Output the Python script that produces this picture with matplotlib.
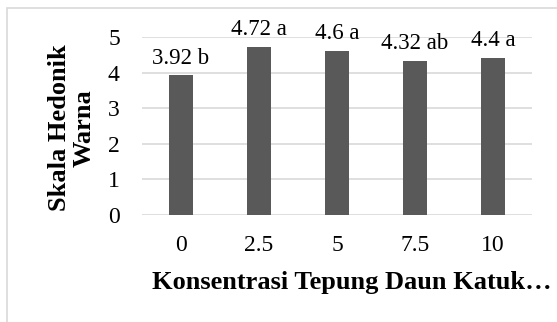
import matplotlib.pyplot as plt
from matplotlib.patches import Rectangle

# Hedonic colour scores per katuk leaf flour concentration
konsentrasi = ["0", "2.5", "5", "7.5", "10"]
skor_warna = [3.92, 4.72, 4.6, 4.32, 4.4]
notasi = ["b", "a", "a", "ab", "a"]

plt.rcParams["font.family"] = ["Liberation Serif", "DejaVu Serif"]

fig = plt.figure(figsize=(5.57, 3.22), dpi=100)
ax = fig.add_axes([0.255, 0.332, 0.700, 0.553])

x = range(len(konsentrasi))
bars = ax.bar(x, skor_warna, width=0.3, color="#595959", zorder=3)

for i, (v, n) in enumerate(zip(skor_warna, notasi)):
    ax.annotate(f"{v:g} {n}", (i, v), xytext=(0, 5), textcoords="offset points",
                ha="center", va="bottom", fontsize=16.5)

ax.set_xlim(-0.5, len(konsentrasi) - 0.5)
ax.set_ylim(0, 5)
ax.set_yticks(range(6))
ax.set_xticks(list(x))
ax.set_xticklabels(konsentrasi)
ax.yaxis.grid(True, color="#d9d9d9", linewidth=1.2, zorder=0)
ax.tick_params(axis="both", length=0, labelsize=17)
ax.tick_params(axis="y", pad=16)
ax.tick_params(axis="x", pad=14)
for s in ax.spines.values():
    s.set_visible(False)

fig.text(72 / 557, 1 - 128 / 322, "Skala Hedonik\nWarna", rotation=90,
         ha="center", va="center", multialignment="center",
         fontsize=19, fontweight="bold", linespacing=1.1)
fig.text(352 / 557, 1 - 283 / 322, "Konsentrasi Tepung Daun Katuk\u2026",
         ha="center", va="center", fontsize=19, fontweight="bold")

# light chart-area border
fig.patches.append(Rectangle((7 / 557, -0.1), 1.2, 1.1 - 8 / 322,
                             transform=fig.transFigure, fill=False,
                             edgecolor="#d9d9d9", linewidth=1.2))

fig.savefig("out.png", dpi=100)
